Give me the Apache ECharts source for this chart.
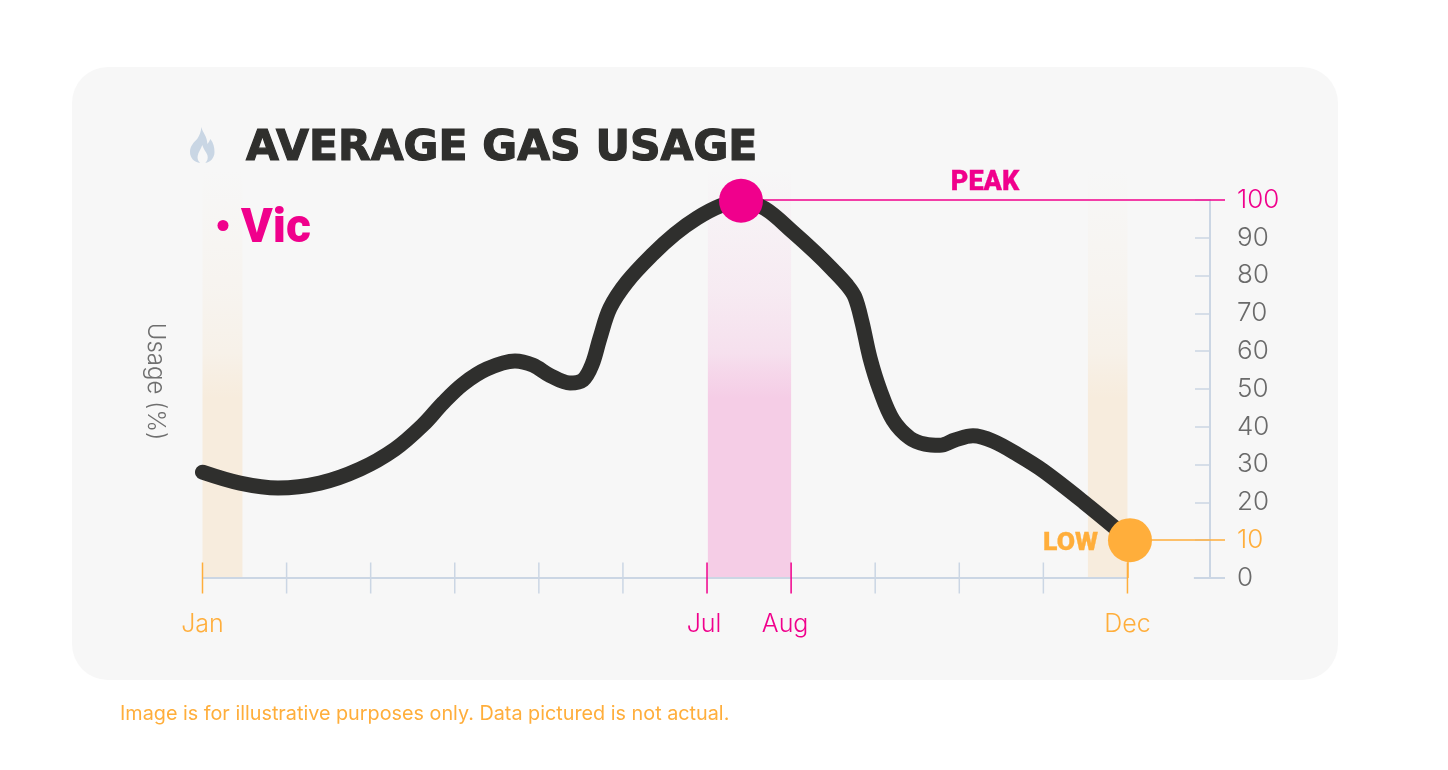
<!DOCTYPE html>
<html><head><meta charset="utf-8">
<style>html,body{margin:0;padding:0;background:#fff}#c{width:1448px;height:770px}</style>
<script src="https://cdn.jsdelivr.net/npm/echarts@6/dist/echarts.min.js"></script>
</head><body><div id="c"></div>
<script>
const months = ['Jan','Feb','Mar','Apr','May','Jun','Jul','Aug','Sep','Oct','Nov','Dec'];
const monthPositions = [0,0.446,0.898,1.397,1.873,2.289,2.622,2.86,3.098,3.383,3.716,3.93,4.132,4.37,4.525,4.632,4.727,4.846,5.048,5.357,5.618,5.88,6.154,6.404,6.689,7.022,7.284,7.498,7.664,7.759,7.843,7.938,8.057,8.212,8.413,8.592,8.77,8.949,9.163,9.401,9.698,9.996,10.49,11.03];
const usage = [28,25.1,23.8,25.1,28.8,34.1,40.5,46.3,51.3,55.3,57.4,56.3,53.6,51.6,52.4,56.4,63.5,71.4,78.3,85.7,91,95.2,98.4,99.8,97.7,91.5,86.2,81.5,77.5,74.3,67.7,58.2,49.7,41.8,37,35.4,35.1,36.5,37.6,36.2,32.6,28.4,19.9,10];
const labelledMonths = [0,6,7,11];
const peakMonths = [6,7];
const lowMonths = [0,11];
const bands = [[0,0.475,'low'],[6.01,7,'peak'],[10.53,11,'low']];
const peakPoint = [6.404,99.8];
const lowPoint = [11.03,10];
const xEnd = 12.16;

const PINK='#f0008c', ORANGE='#ffae3b', SLATE='#cbd6e4', GREY='#6a6a6a', DARK='#2f2f2d';
const FONT='Inter';
const bandColor = {low:[247,236,221], peak:[245,205,230]};
const rgba=(c,a)=>`rgba(${c[0]},${c[1]},${c[2]},${a})`;
const flame='M11 0C12 5 17 9 17 17C18 16 19 14 20 12C23 16 24 20 24 25C24 31 20 35 15 36C17 34 18 31 17 28C16 25 13 22 12 18C11 22 8 25 7.5 29C7 32 8 34 10 36C4 35 0 31 0 25C0 19 4 15 7 12C9 9 11 5 11 0Z';

const chart = echarts.init(document.getElementById('c'),null,{renderer:'canvas'});
chart.setOption({
  animation:false,
  backgroundColor:'#ffffff',
  title:[
    {text:'AVERAGE GAS USAGE',left:241,top:122,textStyle:{fontFamily:'DejaVu Sans',fontWeight:700,fontSize:42.5,color:DARK,textBorderColor:DARK,textBorderWidth:1.2}},
    {text:'Image is for illustrative purposes only. Data pictured is not actual.',left:115,top:699,textStyle:{fontFamily:FONT,fontWeight:400,fontSize:19.8,color:ORANGE}}
  ],
  legend:{left:212.5,top:200.5,itemWidth:26,itemHeight:11,itemGap:0,selectedMode:false,
    formatter:'{v|{name}}',
    data:[{name:'Vic',icon:'circle',itemStyle:{color:PINK},textStyle:{rich:{v:{fontFamily:'Roboto',fontWeight:900,fontSize:48,color:PINK,padding:[8,0,0,0]}}}}]},
  graphic:[
    {type:'rect',z:-10,silent:true,shape:{x:72,y:67,width:1266,height:613,r:36},style:{fill:'#f7f7f7'}}
  ],
  grid:{left:202.5,right:1448-1225,top:200,bottom:192,containLabel:false},
  xAxis:{type:'value',min:0,max:xEnd,splitLine:{show:false},axisLine:{show:false},
    axisTick:{show:false},
    axisLabel:{show:true,margin:34,fontFamily:FONT,fontWeight:300,fontSize:25,customValues:labelledMonths,
      formatter:v=>v===7?'{aug|'+months[v]+'}':v===6?'{jul|'+months[v]+'}':months[v],
      color:v=>peakMonths.includes(+v)?PINK:ORANGE,
      rich:{aug:{padding:[0,12,0,0],color:PINK,fontFamily:FONT,fontWeight:300,fontSize:25},jul:{padding:[0,6,0,0],color:PINK,fontFamily:FONT,fontWeight:300,fontSize:25}}}},
  yAxis:[
    {type:'value',position:'right',offset:-15,min:0,max:100,interval:10,splitLine:{show:false},
     axisLine:{show:true,onZero:false,lineStyle:{color:SLATE,width:2}},
     axisTick:{show:true,inside:true,length:15,lineStyle:{color:SLATE,width:1.5}},
     axisLabel:{margin:27,fontFamily:FONT,fontSize:26,fontWeight:300,padding:[1,0,0,0],
       color:v=>+v===100?PINK:+v===10?ORANGE:GREY}},
    {type:'value',position:'left',min:0,max:100,name:'Usage (%)',nameLocation:'middle',nameRotate:-90,nameGap:35,
     nameTextStyle:{fontFamily:FONT,fontWeight:300,fontSize:24,color:'#6f6f6f',padding:[0,15,0,0]},
     axisLine:{show:false},axisTick:{show:false},axisLabel:{show:false},splitLine:{show:false}}
  ],
  series:[
    {type:'custom',name:'icon',silent:true,z:5,coordinateSystem:'none',data:[0],
     renderItem:()=>({type:'path',shape:{pathData:flame,layout:'cover',x:190,y:127,width:24.5,height:36},style:{fill:'#c9d6e4'}})},
    {type:'custom',name:'bands',silent:true,z:1,clip:false,coordinateSystem:'cartesian2d',data:bands,
     encode:{x:[0,1]},
     renderItem:(p,api)=>{
       const a=api.coord([api.value(0),108]), b=api.coord([api.value(1),0]);
       const c=bandColor[bands[p.dataIndex][2]];
       return {type:'rect',shape:{x:a[0],y:a[1],width:b[0]-a[0],height:b[1]-a[1]},
         style:{fill:new echarts.graphic.LinearGradient(0,0,0,1,[
           {offset:0,color:rgba(c,0)},{offset:0.3,color:rgba(c,0.3)},{offset:0.45,color:rgba(c,0.55)},{offset:0.5,color:rgba(c,0.78)},{offset:0.56,color:rgba(c,1)},{offset:1,color:rgba(c,1)}])}};
     }},
    {type:'line',name:'baseline',silent:true,z:2,symbol:'none',data:[[0,0],[11,0]],lineStyle:{color:SLATE,width:2}},
    {type:'line',name:'zeroStub',silent:true,z:2,symbol:'none',data:[[11.79,0],[xEnd,0]],lineStyle:{color:SLATE,width:2}},
    {type:'scatter',name:'monthTicks',silent:true,z:3,clip:false,symbol:'rect',symbolSize:[1.5,31],
     data:months.map((m,i)=>[i,0]),
     itemStyle:{color:p=>peakMonths.includes(p.dataIndex)?PINK:lowMonths.includes(p.dataIndex)?ORANGE:SLATE,opacity:1}},
    {type:'line',name:'Vic',z:4,clip:false,smooth:0.35,symbol:'none',
     data:monthPositions.map((m,i)=>[m,usage[i]]),
     lineStyle:{color:DARK,width:15,cap:'round',join:'round'},itemStyle:{color:DARK},
     markLine:{silent:true,symbol:'none',z:4,animation:false,
       data:[
         [{coord:[peakPoint[0],100],lineStyle:{color:PINK,width:1.5,type:'solid'},
           label:{show:true,formatter:'PEAK',position:'insideMiddleTop',distance:3,padding:[0,0,0,4],color:PINK,fontFamily:'Roboto',fontWeight:900,fontSize:27,textBorderColor:PINK,textBorderWidth:0.3}},{coord:[xEnd,100]}],
         [{coord:[lowPoint[0],10],lineStyle:{color:ORANGE,width:1.5,type:'solid'},label:{show:false}},{coord:[xEnd,10]}],
         [{coord:[11,10],lineStyle:{color:ORANGE,width:1.5,type:'solid'},label:{show:false}},{coord:[11,0]}]
       ]},
     markPoint:{silent:true,symbol:'circle',symbolSize:44,z:6,animation:false,
       data:[
         {coord:peakPoint,itemStyle:{color:PINK},label:{show:false}},
         {coord:lowPoint,itemStyle:{color:ORANGE},label:{show:true,formatter:'LOW',position:'left',distance:10,offset:[0,3],color:ORANGE,fontFamily:'Roboto',fontWeight:900,fontSize:26.5,textBorderColor:ORANGE,textBorderWidth:0.3}}
       ]}}
  ]
});
</script></body></html>
